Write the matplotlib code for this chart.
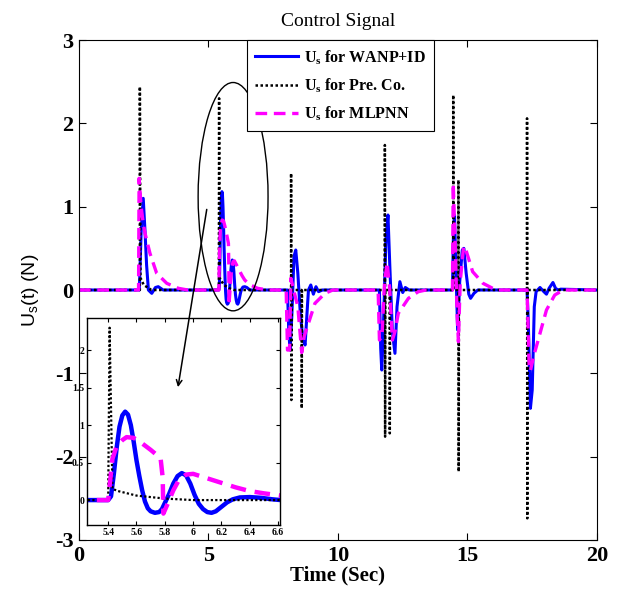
import numpy as np
import matplotlib
matplotlib.use("Agg")
import matplotlib.pyplot as plt
from matplotlib.patches import Ellipse

# control signals (time in s, force in N)
t_wanp = [0, 2.33, 2.40, 2.48, 2.55, 2.61, 2.68, 2.81, 2.95, 3.06, 3.25,
          5.40, 5.42, 5.44, 5.46, 5.48, 5.50, 5.52, 5.54, 5.56, 5.58, 5.60, 5.62, 5.64, 5.66, 5.68,
          5.70, 5.73, 5.76, 5.78, 5.80, 5.83, 5.86, 5.89, 5.92, 5.95, 5.98, 6.01, 6.04, 6.07, 6.10,
          6.13, 6.16, 6.20, 6.24, 6.28, 6.33, 6.40, 6.48, 6.56, 6.62,
          8.05, 8.10, 8.15, 8.22, 8.30, 8.37, 8.45, 8.55, 8.65, 8.73, 8.80, 8.86, 8.95, 9.05, 9.15, 9.25, 9.40,
          11.60, 11.65, 11.69, 11.75, 11.85, 11.93, 12.00, 12.10, 12.20, 12.28, 12.39, 12.50, 12.60, 12.75,
          14.42, 14.46, 14.50, 14.55, 14.62, 14.70, 14.80, 14.86, 14.95, 15.05, 15.12, 15.25, 15.40,
          17.30, 17.35, 17.43, 17.50, 17.58, 17.65, 17.80, 17.95, 18.05, 18.15, 18.30, 18.40, 18.50, 18.60, 20]
u_wanp = [0, 0, 0.70, 1.10, 0.70, 0.30, 0.0, -0.04, 0.03, 0.04, 0,
          0, 0.05, 0.35, 0.70, 0.98, 1.13, 1.18, 1.14, 1.00, 0.78, 0.53, 0.32, 0.13, -0.02, -0.11,
          -0.15, -0.17, -0.16, -0.12, -0.04, 0.08, 0.22, 0.32, 0.36, 0.33, 0.22, 0.07, -0.05, -0.12, -0.16,
          -0.17, -0.15, -0.09, -0.03, 0.01, 0.035, 0.04, 0.03, 0.01, 0,
          0, -0.50, -0.72, -0.30, 0.40, 0.48, 0.20, -0.30, -0.60, -0.66, -0.30, 0.0, 0.06, -0.05, 0.04, -0.02, 0,
          0, -0.70, -0.96, -0.50, 0.60, 0.90, 0.30, -0.50, -0.76, -0.20, 0.10, -0.03, 0.03, 0,
          0, 0.70, 0.90, 0.30, -0.48, 0.10, 0.48, 0.50, 0.20, -0.05, -0.10, -0.04, 0,
          0, -0.40, -1.42, -1.20, -0.20, -0.02, 0.03, -0.02, -0.05, 0.02, 0.09, 0.02, 0.0, 0.01, 0]

t_preco = [0, 2.35, 2.35, 2.37, 2.50, 2.80,
           5.40, 5.41, 5.43, 5.47, 5.60, 5.80, 6.00,
           8.19, 8.19, 8.20, 8.21, 8.60, 8.60, 8.61,
           11.81, 11.81, 11.82, 11.83, 12.00, 12.00, 12.01,
           14.45, 14.45, 14.47, 14.65, 14.65, 14.66, 14.67,
           17.30, 17.30, 17.31, 17.32, 20]
u_preco = [0, 0, 2.44, 0.15, 0.06, 0,
           0, 2.30, 0.15, 0.12, 0.06, 0.02, 0,
           0, 1.40, -1.32, 0, 0, -1.42, 0,
           0, 1.74, -1.76, 0, 0, -1.72, 0,
           0, 2.34, 0, 0, 1.32, -2.18, 0,
           0, 2.06, -2.74, 0, 0]

t_mlp = [0, 2.30, 2.32, 2.40, 2.48, 2.55, 2.74, 3.00, 3.39, 3.84, 4.20,
         5.40, 5.43, 5.46, 5.50, 5.53, 5.58, 5.63, 5.70, 5.77, 5.785, 5.79, 5.82, 5.86, 5.90, 5.95,
         6.00, 6.10, 6.20, 6.30, 6.40, 6.50, 6.62, 6.90, 7.30,
         8.00, 8.05, 8.13, 8.18, 8.25, 8.45, 8.60, 8.70, 8.86, 9.11, 9.50, 9.80,
         11.55, 11.60, 11.70, 11.80, 11.90, 12.00, 12.10, 12.20, 12.33, 12.72, 13.10, 13.40,
         14.42, 14.45, 14.52, 14.60, 14.65, 14.72, 14.85, 14.90, 15.20, 15.60, 16.10,
         17.30, 17.38, 17.43, 17.55, 17.73, 18.05, 18.37, 18.70, 20]
u_mlp = [0, 0, 1.34, 1.00, 0.80, 0.68, 0.44, 0.20, 0.08, 0.02, 0,
         0, 0.55, 0.72, 0.80, 0.84, 0.83, 0.77, 0.67, 0.56, 0.30, -0.18, -0.05, 0.13, 0.27, 0.34,
         0.35, 0.29, 0.23, 0.17, 0.12, 0.09, 0.06, 0.02, 0,
         0, -0.72, -0.72, 0.14, 0.05, -0.20, -0.75, -0.55, -0.40, -0.16, -0.04, 0,
         0, -0.60, -0.55, 0.10, 0.33, 0.0, -0.60, -0.50, -0.28, -0.10, -0.02, 0,
         0, 1.28, 0.60, -0.30, -0.62, 0.10, 0.52, 0.52, 0.22, 0.08, 0,
         0, -0.90, -0.97, -0.80, -0.60, -0.24, -0.06, 0, 0]

x_ticks = [0, 5, 10, 15, 20]
y_ticks = [-3, -2, -1, 0, 1, 2, 3]
zoom_xticks = [5.4, 5.6, 5.8, 6, 6.2, 6.4, 6.6]
zoom_xlabels = ["5.4", "5.6", "5.8", "6", "6.2", "6.4", "6.6"]
zoom_yticks = [0, 0.5, 1, 1.5, 2]
zoom_ylabels = ["0", "0.5", "1", "1.5", "2"]

plt.rcParams['font.family'] = ['Liberation Serif', 'DejaVu Serif']
plt.rcParams['axes.unicode_minus'] = False
plt.rcParams['mathtext.fontset'] = 'custom'
plt.rcParams['mathtext.rm'] = 'Liberation Serif:bold'
plt.rcParams['mathtext.sf'] = 'Liberation Sans'

blue = (0.0, 0.0, 1.0)
magenta = (1.0, 0.0, 1.0)
dotted = (0, (1, 1))
dashed = (0, (3.5, 2))

fig = plt.figure(figsize=(6.21, 5.91), dpi=100)
ax = fig.add_axes([0.1272, 0.0863, 0.8341, 0.846])

ax.plot(t_wanp, u_wanp, color=blue, lw=2.2, label=r'U$_\mathrm{s}$ for WANP+ID')
ax.plot(t_preco, u_preco, color='black', lw=1.8, ls=dotted, label=r'U$_\mathrm{s}$ for Pre. Co.')
ax.plot(t_mlp, u_mlp, color=magenta, lw=2.4, ls=dashed, label=r'U$_\mathrm{s}$ for MLPNN')

ax.set_xlim(0, 20)
ax.set_ylim(-3, 3)
ax.set_xticks(x_ticks)
ax.set_yticks(y_ticks)
ax.tick_params(direction='in', top=True, right=True, length=5, width=0.8, labelsize=16, pad=4)
for lab in ax.get_xticklabels() + ax.get_yticklabels():
    lab.set_fontweight('bold')
for s in ax.spines.values():
    s.set_linewidth(0.8)

ax.set_title('Control Signal', fontsize=14, pad=10)
ax.set_xlabel('Time (Sec)', fontsize=15, fontweight='bold', labelpad=0)
ax.set_ylabel(r'U$_\mathsf{s}$(t) (N)', fontsize=14, family='Liberation Sans', labelpad=10)

leg = ax.legend(loc='upper left', bbox_to_anchor=(0.324, 1.0), borderaxespad=0,
                prop={'weight': 'bold', 'size': 11.5}, fancybox=False, edgecolor='black',
                handlelength=2.7, handletextpad=0.4, labelspacing=0.6, borderpad=0.5,
                framealpha=1)
leg.get_frame().set_linewidth(0.8)

ax.add_patch(Ellipse((5.95, 1.12), width=2.7, height=2.74, fill=False, ec='black', lw=1.0, zorder=5))

# zoomed view of the second disturbance
ax_in = fig.add_axes([0.140, 0.112, 0.311, 0.350])
ax_in.plot(t_wanp, u_wanp, color=blue, lw=3.2)
ax_in.plot(t_preco, u_preco, color='black', lw=1.6, ls=dotted)
ax_in.plot(t_mlp, u_mlp, color=magenta, lw=3.2, ls=dashed)
ax_in.set_xlim(5.25, 6.614)
ax_in.set_ylim(-0.33, 2.43)
ax_in.set_xticks(zoom_xticks)
ax_in.set_xticklabels(zoom_xlabels)
ax_in.set_yticks(zoom_yticks)
ax_in.set_yticklabels(zoom_ylabels)
ax_in.tick_params(direction='in', top=True, right=True, length=3, width=0.8, labelsize=7, pad=2)
for lab in ax_in.get_xticklabels() + ax_in.get_yticklabels():
    lab.set_fontweight('bold')
for s in ax_in.spines.values():
    s.set_linewidth(1.0)

ax_in.annotate('', xy=(5.89, 1.47), xycoords='data', xytext=(4.95, 1.0), textcoords=ax.transData,
               arrowprops=dict(arrowstyle='->', lw=1.1, color='black'))

fig.savefig('out.png', dpi=100)
